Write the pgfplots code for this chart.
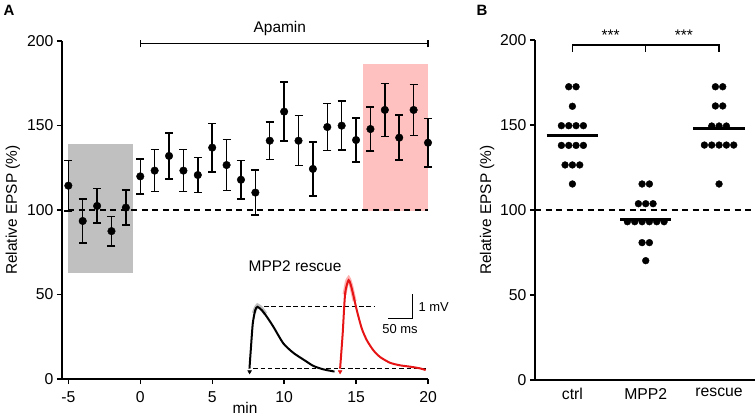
\documentclass[border=0pt]{standalone}
\usepackage{fontspec}
\setmainfont{Liberation Sans}
\usepackage{pgfplots}
\pgfplotsset{compat=1.18}
\usepackage{pgfplotstable}

\definecolor{boxgray}{RGB}{192,192,192}
\definecolor{boxpink}{RGB}{255,192,192}
\definecolor{tracered}{RGB}{230,20,20}

\pgfplotstableread{
x y e
-5 114.4 15.0
-4 93.5 13.0
-3 102.4 10.2
-2 87.5 8.7
-1 101.4 10.3
0 119.9 10.4
1 123.3 12.4
2 132.0 13.7
3 123.3 12.5
4 120.7 10.3
5 136.9 14.3
6 126.6 15.0
7 117.9 11.5
8 110.3 13.3
9 141.0 11.0
10 158.2 17.4
11 141.0 14.8
12 124.3 16.0
13 149.1 13.8
14 149.9 14.5
15 141.4 13.0
16 147.9 13.1
17 159.2 15.7
18 142.8 13.3
19 159.2 15.2
20 139.8 14.3
}\timecourse

\pgfplotsset{
  myaxis/.style={
    scale only axis,
    anchor=south west,
    axis x line*=bottom,
    axis y line*=left,
    axis line style={-, line width=1.4bp},
    tick align=outside,
    major tick length=5bp,
    tick style={line width=1.4bp, black},
    ymin=0, ymax=200,
    ytick={0,50,100,150,200},
    clip=false,
    /pgf/number format/assume math mode=true,
    tick label style={font=\fontsize{15.8}{18}\selectfont},
    label style={font=\fontsize{15.5}{18}\selectfont},
  }
}

\begin{document}
\begin{tikzpicture}[font=\fontsize{15.5}{18}\selectfont]
\path[use as bounding box] (0,0) rectangle (756bp,416bp);

\node[font=\fontsize{15}{18}\selectfont\bfseries] at (9bp,406bp) {A};
\node[font=\fontsize{15}{18}\selectfont\bfseries] at (482bp,406bp) {B};

% ---------------- Panel A ----------------
\begin{axis}[myaxis,
  at={(62bp,37bp)}, width=366bp, height=338bp,
  xmin=-5.44, xmax=20,
  xtick={-5,0,5,10,15,20},
  xticklabel style={yshift=-4bp},
  xlabel={min},
  xlabel style={at={(axis description cs:0.5,0)}, anchor=center, yshift=-28.5bp},
  ylabel={Relative EPSP (\%)},
  ylabel style={at={(axis description cs:0,0.5)}, anchor=center, yshift=49bp},
]
% shaded windows
\addplot[fill=boxgray, draw=none, forget plot] coordinates {(-5,62.5) (-0.5,62.5) (-0.5,139) (-5,139)} -- cycle;
\addplot[fill=boxpink, draw=none, forget plot] coordinates {(15.5,99.3) (20,99.3) (20,186.3) (15.5,186.3)} -- cycle;
% baseline
\addplot[black, line width=1.3bp, dash pattern=on 6bp off 4.5bp, forget plot] coordinates {(-5,100) (20,100)};
% Apamin bracket
\addplot[black, line width=1.3bp, forget plot] coordinates {(0,198.6) (20,198.6)};
\addplot[black, line width=1.3bp, forget plot] coordinates {(0,196.2) (0,200.8)};
\addplot[black, line width=1.3bp, forget plot] coordinates {(20,196.2) (20,200.8)};
\node at (axis cs:9.7,207.5) {Apamin};
% inset traces
\node at (axis cs:10.76,66.5) {MPP2 rescue};
\addplot[black, line width=0.9bp, dash pattern=on 4.5bp off 2.8bp, forget plot] coordinates {(8.1,42.7) (16.25,42.7)};
\addplot[black, line width=0.9bp, dash pattern=on 4.5bp off 2.8bp, forget plot] coordinates {(7.85,6.1) (19.9,6.1)};
\addplot[gray!50, line width=4bp, smooth, tension=0.4, forget plot] coordinates {(7.9,39) (8.0,41.5) (8.15,43.5) (8.4,42) (8.7,38.5)};
\addplot[red!30, line width=4bp, smooth, tension=0.4, forget plot] coordinates {(14.2,50) (14.35,57) (14.48,59.5) (14.65,55.5) (14.9,46)};
\addplot[black, line width=2bp, smooth, tension=0.4, forget plot] coordinates {
(7.59,6.1) (7.68,17.0) (7.82,32.8) (7.99,40.7) (8.15,42.7) (8.45,40.7) (8.80,36.8) (9.26,30.8) (9.95,21.0) (10.65,15.4) (11.34,11.5) (12.04,7.7) (12.73,5.7) (13.5,4.4)};
\addplot[tracered, line width=2bp, smooth, tension=0.4, forget plot] coordinates {
(13.89,6.1) (14.07,26.9) (14.24,50.6) (14.48,58.5) (14.70,53.6) (15.05,40.7) (15.4,29.8) (15.75,22.9) (16.2,17.0) (16.67,13.0) (17.36,9.6) (18.05,8.1) (18.75,7.3) (19.44,6.3) (19.84,5.3)};
\addplot[only marks, mark=triangle*, mark size=2.2bp, black, mark options={rotate=180}, forget plot] coordinates {(7.6,4.3)};
\addplot[only marks, mark=triangle*, mark size=2.2bp, tracered, mark options={rotate=180}, forget plot] coordinates {(13.89,4.3)};
% scale bar
\addplot[black, line width=1.2bp, forget plot] coordinates {(17.25,35.8) (18.9,35.8) (18.9,50)};
\node[anchor=west, font=\fontsize{13}{15}\selectfont] at (axis cs:19.1,42.8) {1 mV};
\node[font=\fontsize{13}{15}\selectfont] at (axis cs:18.05,29.6) {50 ms};
% time course
\addplot[black, only marks, mark=*, mark size=3.8bp,
  error bars/.cd, y dir=both, y explicit,
  error bar style={line width=1.5bp, black},
  error mark options={rotate=90, line width=1.5bp, mark size=4bp, black}]
  table[x=x, y=y, y error=e] {\timecourse};
\end{axis}

% ---------------- Panel B ----------------
\begin{axis}[myaxis,
  at={(535bp,36bp)}, width=220bp, height=340bp,
  xmin=-0.51, xmax=2.49,
  xtick={0,1,2}, xticklabels={ctrl,MPP2,rescue},
  x tick style={draw=none},
  ylabel={Relative EPSP (\%)},
  ylabel style={at={(axis description cs:0,0.5)}, anchor=center, yshift=48bp},
]
\addplot[black, line width=1.3bp, dash pattern=on 6bp off 4.5bp, forget plot] coordinates {(-0.51,100) (2.49,100)};
% significance brackets
\addplot[black, line width=1.3bp, forget plot] coordinates {(0,193) (0,197) (2,197) (2,193)};
\addplot[black, line width=1.3bp, forget plot] coordinates {(1,193) (1,197)};
\node at (axis cs:0.52,203) {***};
\node at (axis cs:1.52,203) {***};
% dots
\addplot[black, only marks, mark=*, mark size=3.4bp] coordinates {
(-0.05,172.5) (0.05,172.5) (0,161.0)
(-0.15,149.6) (-0.05,149.6) (0.05,149.6) (0.15,149.6)
(-0.15,138) (-0.05,138) (0.05,138) (0.15,138)
(-0.1,126.5) (0,126.5) (0.1,126.5) (0,115.3)};
\addplot[black, only marks, mark=*, mark size=3.4bp] coordinates {
(0.95,115.3) (1.05,115.3)
(0.9,103.7) (1,103.7) (1.1,103.7)
(0.75,93.1) (0.85,93.1) (0.95,93.1) (1.05,93.1) (1.15,93.1) (1.25,93.1)
(0.95,80.8) (1.05,80.8) (1,70.2)};
\addplot[black, only marks, mark=*, mark size=3.4bp] coordinates {
(1.95,172.5) (2.05,172.5) (1.95,161.2) (2.05,161.2)
(1.9,149.4) (2,149.4) (2.1,149.4)
(1.8,138.2) (1.9,138.2) (2,138.2) (2.1,138.2) (2.2,138.2)
(2,115.3)};
% means
\addplot[black, line width=2.6bp] coordinates {(-0.35,143.9) (0.35,143.9)};
\addplot[black, line width=2.6bp] coordinates {(0.65,94.5) (1.35,94.5)};
\addplot[black, line width=2.6bp] coordinates {(1.65,148) (2.35,148)};
\end{axis}
\end{tikzpicture}
\end{document}
